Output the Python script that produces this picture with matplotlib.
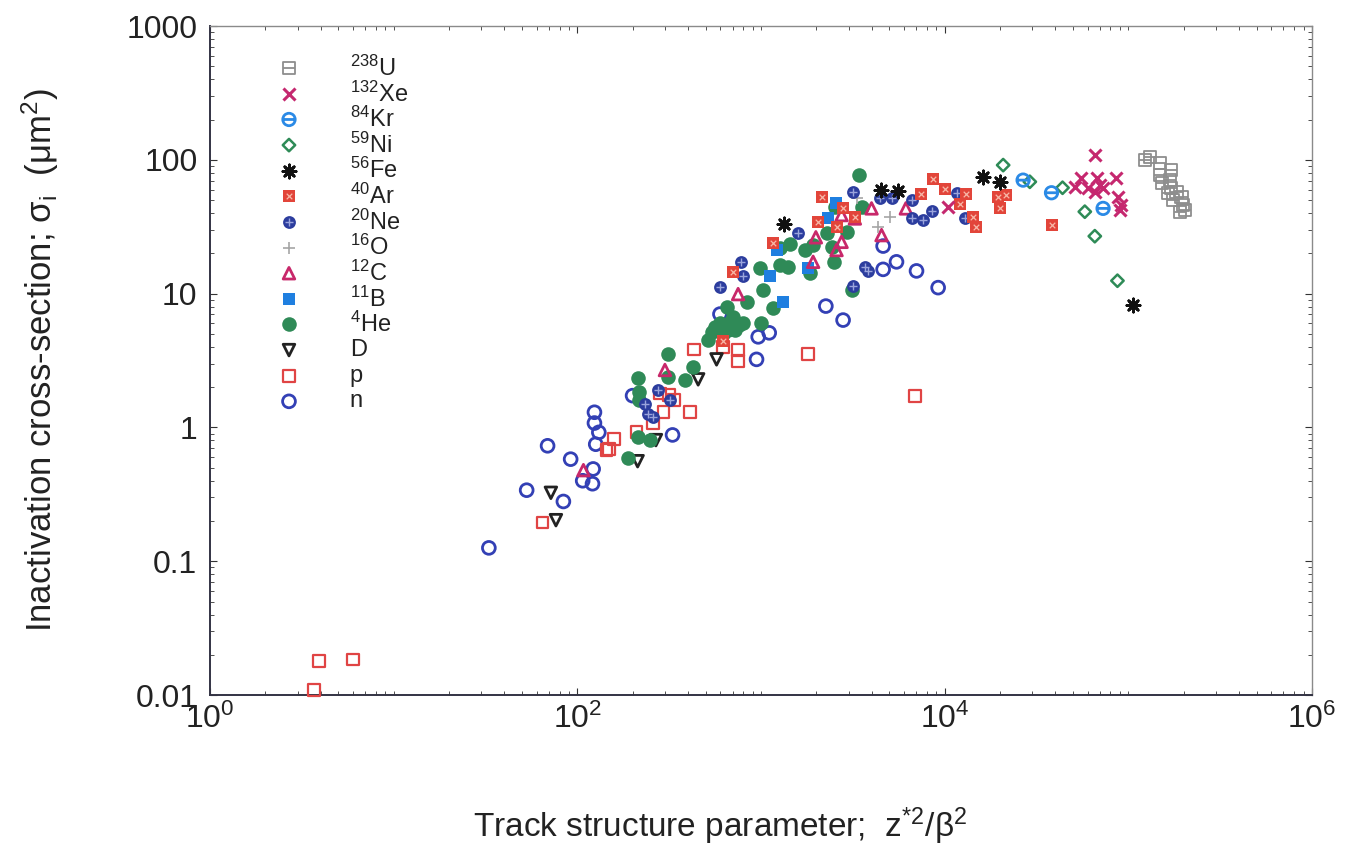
import matplotlib
matplotlib.use("Agg")
import matplotlib.pyplot as plt
from matplotlib.path import Path
from matplotlib.ticker import FixedLocator, LogLocator, FuncFormatter, NullFormatter

plt.rcParams["font.family"] = ["Liberation Sans", "DejaVu Sans"]
plt.rcParams["mathtext.fontset"] = "custom"
plt.rcParams["mathtext.rm"] = "Liberation Sans"
plt.rcParams["mathtext.it"] = "Liberation Sans:italic"
plt.rcParams["mathtext.bf"] = "Liberation Sans:bold"

# ---------------------------------------------------------------------------
# Inactivation cross-section vs track structure parameter, per ion species
# ---------------------------------------------------------------------------
u_x = [123000, 131000, 148500, 171800, 148500, 152000, 168300, 171800, 164800,
       175400, 194900, 199000, 190700, 203000, 183000]
u_y = [99.7, 105, 94.2, 83.9, 76.9, 66.7, 70.6, 61.2, 56.2, 50.1, 53, 45.9, 41.0, 42.2, 57.8]

xe_x = [10450, 65720, 51140, 54950, 60420, 67140, 69940, 72900, 65720, 86260, 88080, 91800, 89930]
xe_y = [44.6, 108.6, 63, 72.7, 61.2, 72.7, 64.8, 61.2, 57.8, 72.7, 53, 45.9, 42.2]

kr_x = [26750, 72900, 38190]
kr_y = [70.6, 43.4, 56.8]

ni_x = [20830, 29100, 43850, 57980, 65720, 87300]
ni_y = [91.4, 68.6, 61.9, 41.0, 26.9, 12.5]

fe_x = [1333, 4519, 5600, 16200, 19990, 106200]
fe_y = [33.1, 59.4, 58.6, 74.8, 68.6, 8.22]

ar_x = [620, 706, 1165, 2163, 2048, 2579, 2800, 3245, 8655, 10020, 7480, 13040,
        12100, 14190, 14890, 19550, 21720, 19990, 38190]
ar_y = [4.4, 14.6, 23.8, 53, 34.5, 31.6, 43.4, 37.6, 71.5, 60.2, 55.2, 55.2,
        46.7, 37.2, 31.3, 52.5, 54.6, 43.4, 32.6]

ne_x = [233, 243, 257, 276, 319, 598, 778, 794, 1594, 3177, 3679, 3835, 3177,
        8490, 6607, 7640, 11610, 12880, 4437, 5140, 6607]
ne_y = [1.51, 1.27, 1.20, 1.90, 1.60, 11.3, 17.3, 13.5, 28.2, 11.4, 15.9, 14.8, 57.8,
        41.4, 36.5, 35.5, 56.2, 36.5, 51.5, 51.5, 50.1]

o_x = [5033, 4345, 3314]
o_y = [37.6, 31.6, 51.5]

c_x = [108, 300, 751, 1923, 1990, 2747, 2579, 2747, 3245, 4535, 4000, 6150]
c_y = [0.48, 2.69, 9.93, 17.3, 26.4, 24.4, 21.2, 38.7, 36.5, 27.4, 43.4, 43.4]

b_x = [1118, 1311, 1216, 1807, 2322, 2557]
b_y = [13.5, 8.7, 21.2, 15.5, 36.5, 47.3]

he_x = [3425, 3563, 2525, 2276, 2924, 2423, 2494, 1846, 1923, 1734, 1437, 1268,
        1268, 1406, 986, 1020, 835, 1157, 995, 650, 706, 800, 598, 663, 538, 516,
        718, 312, 427, 385, 312, 215, 217, 218, 248, 215, 189, 3113, 560, 620, 690, 760]
he_y = [76.9, 44.6, 44.6, 28.2, 29, 22.4, 17.3, 14.2, 23.1, 21.2, 23.5, 21.8,
        16.4, 15.9, 15.5, 10.6, 8.7, 7.76, 6.0, 7.98, 6.72, 6.0, 6.0, 5.35, 5.19, 4.5,
        5.35, 3.54, 2.84, 2.26, 2.39, 2.33, 1.85, 1.60, 0.80, 0.85, 0.59, 10.6, 5.6, 5.0, 6.3, 5.8]

d_x = [71.8, 76.5, 213, 268, 455, 573]
d_y = [0.325, 0.203, 0.56, 0.805, 2.29, 3.23]

p_x = [3.68, 3.92, 6.03, 64.7, 158, 144, 149, 210, 259, 294, 336, 410, 282, 316,
       431, 751, 751, 623, 1807, 6890]
p_y = [0.0109, 0.018, 0.0185, 0.195, 0.82, 0.68, 0.69, 0.93, 1.08, 1.31, 1.60, 1.31,
       1.80, 1.75, 3.83, 3.79, 3.15, 4.0, 3.54, 1.72]

n_x = [33, 68.9, 92, 124, 124, 131, 126, 122, 107, 121, 53, 84, 200, 330, 946,
       1109, 966, 598, 2256, 2800, 4625, 4625, 5470, 7030, 9220]
n_y = [0.126, 0.73, 0.58, 1.30, 1.08, 0.92, 0.75, 0.49, 0.40, 0.38, 0.34, 0.28,
       1.73, 0.88, 3.23, 5.1, 4.76, 7.04, 8.08, 6.35, 22.7, 15.2, 17.3, 14.8, 11.1]

labels = [r"$^{238}$U", r"$^{132}$Xe", r"$^{84}$Kr", r"$^{59}$Ni", r"$^{56}$Fe",
          r"$^{40}$Ar", r"$^{20}$Ne", r"$^{16}$O", r"$^{12}$C", r"$^{11}$B",
          r"$^{4}$He", "D", "p", "n"]
series = [(u_x, u_y), (xe_x, xe_y), (kr_x, kr_y), (ni_x, ni_y), (fe_x, fe_y),
          (ar_x, ar_y), (ne_x, ne_y), (o_x, o_y), (c_x, c_y), (b_x, b_y),
          (he_x, he_y), (d_x, d_y), (p_x, p_y), (n_x, n_y)]

# custom marker shapes: circle with a bar, box with a bar
_bar = Path([[-1, 0], [1, 0]], [Path.MOVETO, Path.LINETO])
THETA = Path.make_compound_path(Path.unit_circle(), _bar)
_box = Path([[-1, -1], [1, -1], [1, 1], [-1, 1], [-1, -1]],
            [Path.MOVETO, Path.LINETO, Path.LINETO, Path.LINETO, Path.CLOSEPOLY])
BOXBAR = Path.make_compound_path(_box, _bar)

styles = [
    [dict(marker=BOXBAR, s=75, facecolors="none", edgecolors="#8e8e8e", linewidths=1.3)],
    [dict(marker="x", s=75, c="#c5286f", linewidths=2.2)],
    [dict(marker=THETA, s=80, facecolors="none", edgecolors="#2b8ae6", linewidths=2)],
    [dict(marker="D", s=40, facecolors="none", edgecolors="#2e8b57", linewidths=1.8)],
    [dict(marker=(8, 2, 0), s=90, c="#111111", linewidths=2)],
    [dict(marker="s", s=75, c="#e2453a", linewidths=0),
     dict(marker="x", s=16, c="#f7b8a8", linewidths=0.9)],
    [dict(marker="o", s=85, c="#2c3d9e", linewidths=0),
     dict(marker="+", s=32, c="#9aa4dc", linewidths=1)],
    [dict(marker="+", s=80, c="#a5a5a5", linewidths=1.2)],
    [dict(marker="^", s=70, facecolors="none", edgecolors="#c8286a", linewidths=2)],
    [dict(marker="s", s=70, c="#1f7fe0", linewidths=0)],
    [dict(marker="o", s=110, c="#2f8a57", linewidths=0)],
    [dict(marker="v", s=70, facecolors="none", edgecolors="#222222", linewidths=2)],
    [dict(marker="s", s=70, facecolors="none", edgecolors="#e04444", linewidths=1.6)],
    [dict(marker="o", s=85, facecolors="none", edgecolors="#3340b5", linewidths=2)],
]

fig = plt.figure(figsize=(13.46, 8.55), dpi=100)
ax = fig.add_axes([0.156, 0.187, 0.8187, 0.7825])
ax.set_xscale("log")
ax.set_yscale("log")

# draw from n upward so the heavy ions sit on top
for (xs, ys), layers in reversed(list(zip(series, styles))):
    for kw in layers:
        ax.scatter(xs, ys, clip_on=False, zorder=3, **kw)

# hand-placed legend, no frame
for i, (lab, layers) in enumerate(zip(labels, styles)):
    yy = 0.937 - i * 0.0383
    for kw in layers:
        ax.scatter([0.0717], [yy], transform=ax.transAxes, zorder=4, **kw)
    ax.text(0.127, yy, lab, transform=ax.transAxes, fontsize=17, va="center", ha="left",
            color="#222222")

ax.set_xlim(1, 1e6)
ax.set_ylim(0.01, 1000)
ax.xaxis.set_major_locator(FixedLocator([1, 1e2, 1e4, 1e6]))
ax.xaxis.set_minor_locator(LogLocator(base=10, subs=(1, 2, 3, 4, 5, 6, 7, 8, 9), numticks=20))
ax.xaxis.set_minor_formatter(NullFormatter())
ax.yaxis.set_major_locator(FixedLocator([0.01, 0.1, 1, 10, 100, 1000]))
ax.yaxis.set_major_formatter(FuncFormatter(lambda v, _: f"{v:g}"))
ax.yaxis.set_minor_locator(LogLocator(base=10, subs=(2, 3, 4, 5, 6, 7, 8, 9), numticks=20))
ax.yaxis.set_minor_formatter(NullFormatter())

ax.tick_params(which="both", direction="in", top=True, right=True, colors="#333333")
ax.tick_params(which="major", length=5, labelsize=23, labelcolor="#222222")
ax.tick_params(which="minor", length=3)
ax.tick_params(axis="y", which="major", pad=9)
ax.tick_params(axis="x", which="major", pad=6)

for side in ("left", "bottom"):
    ax.spines[side].set_color("#333344")
    ax.spines[side].set_linewidth(1.4)
for side in ("top", "right"):
    ax.spines[side].set_color("#8a8a8a")
    ax.spines[side].set_linewidth(1.0)

ax.set_xlabel(r"Track structure parameter;  z$^{*2}$/β$^{2}$", fontsize=24, color="#222222")
ax.xaxis.set_label_coords(0.463, -0.165)
ax.set_ylabel(r"Inactivation cross-section; σ$_{\rm i}$  (μm$^{2}$)", fontsize=25, color="#222222")
ax.yaxis.set_label_coords(-0.135, 0.5)

fig.savefig("out.png", dpi=100)
